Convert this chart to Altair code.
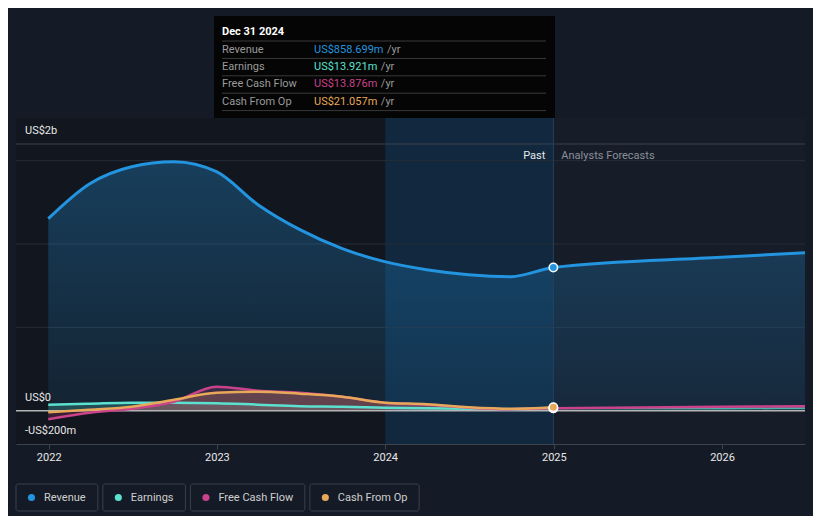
import altair as alt
import pandas as pd

# ---------------- data ----------------
dates = ["2021-12-31", "2022-03-31", "2022-06-30", "2022-09-30", "2022-12-31",
         "2023-03-31", "2023-06-30", "2023-09-30", "2023-12-31",
         "2024-03-31", "2024-06-30", "2024-09-30", "2024-12-31"]
revenue = [1152, 1362, 1464, 1494, 1434, 1236, 1086, 972, 894, 846, 816, 804, 858.699]
earnings = [36, 42, 48, 48, 45, 36, 27, 24, 18, 15, 12, 9, 13.921]
free_cash_flow = [-51, -12, 12, 54, 144, 120, 108, 84, 48, 36, 18, 9, 13.876]
cash_from_op = [-10, 6, 24, 66, 108, 114, 102, 84, 48, 39, 21, 12, 21.057]

fc_dates = ["2024-12-31", "2025-12-31", "2026-06-30"]
revenue_fc = [858.699, 920, 948]
earnings_fc = [13.921, 13, 15]
free_cash_flow_fc = [13.876, 24, 26]

series_names = ["Revenue", "Earnings", "Free Cash Flow", "Cash From Op"]
series_colors = ["#2394df", "#5ce1d0", "#c9428a", "#e8a85a"]
tooltip_date = "Dec 31 2024"
tooltip_values = ["US$858.699m", "US$13.921m", "US$13.876m", "US$21.057m"]

y_tick_values = [1600, 0, -200]
y_tick_labels = ["US$2b", "US$0", "-US$200m"]
grid_values = [1500, 1000, 500]
x_tick_years = [2022, 2023, 2024, 2025, 2026]

# ---------------- layout ----------------
W, H = 789, 300
FONT = "Roboto"
BG = "#151b26"

_w = {' ': 507, 'a': 1089, 'b': 1120, 'c': 1046, 'd': 1126, 'e': 1058, 'f': 697, 'g': 1120,
      'h': 1100, 'i': 486, 'j': 476, 'k': 1013, 'l': 486, 'm': 1751, 'n': 1102, 'o': 1141,
      'p': 1120, 'q': 1130, 'r': 677, 's': 1031, 't': 653, 'u': 1100, 'v': 968, 'w': 1502,
      'x': 990, 'y': 945, 'C': 1302, 'E': 1136, 'F': 1106, 'O': 1377, 'P': 1292, 'R': 1260,
      'S': 1216, 'U': 1296, '$': 1150, '.': 539, '/': 824}


def text_w(s, size=11):
    return sum(_w.get(c, 1150) for c in s) * size / 2048


xscale = alt.Scale(domain=[alt.DateTime(year=2021, month=10, date=22, utc=True),
                           alt.DateTime(year=2026, month=6, date=30, utc=True)])
yscale = alt.Scale(domain=[-200, 1600], nice=False, zero=False)

axis_x = alt.Axis(values=[alt.DateTime(year=yv, month=1, date=1, utc=True) for yv in x_tick_years],
                  labelExpr="utcFormat(datum.value, '%Y')", grid=False,
                  domainColor="#3d434d", tickColor="#3d434d", tickSize=5,
                  labelColor="#e8e8e8", labelFont=FONT, labelFontSize=11, labelPadding=2)


def X(field="date"):
    return alt.X(f"{field}:T", scale=xscale, axis=axis_x, title=None)


def Y(field):
    return alt.Y(f"{field}:Q", scale=yscale, axis=None, title=None)


past = pd.DataFrame({"date": dates, "Revenue": revenue, "Earnings": earnings,
                     "Free Cash Flow": free_cash_flow, "Cash From Op": cash_from_op})
fc = pd.DataFrame({"date": fc_dates, "Revenue": revenue_fc, "Earnings": earnings_fc,
                   "Free Cash Flow": free_cash_flow_fc})
color_of = dict(zip(series_names, series_colors))

# background regions
regions = pd.DataFrame({
    "date": ["2021-10-22", "2024-01-01", "2024-12-31"],
    "end": ["2024-01-01", "2024-12-31", "2026-06-30"],
    "fill": ["#12161e", "#11283e", "#161d29"],
})
bg_layer = alt.Chart(regions).mark_rect().encode(
    x=X(), x2="end:T", y=alt.value(-26), y2=alt.value(H),
    color=alt.Color("fill:N", scale=None))

grid_df = pd.DataFrame({"v": grid_values})
grid = alt.Chart(grid_df).mark_rule(color="#262d38", strokeWidth=1).encode(
    y=Y("v"), x=alt.value(0), x2=alt.value(W))
top_df = pd.DataFrame({"v": [y_tick_values[0]]})
top_line = alt.Chart(top_df).mark_rule(color="#3d434d", strokeWidth=1).encode(
    y=Y("v"), x=alt.value(0), x2=alt.value(W))
zero_df = pd.DataFrame({"v": [0]})
zero_line = alt.Chart(zero_df).mark_rule(color="#b4b4b4", strokeWidth=1.5).encode(
    y=Y("v"), x=alt.value(0), x2=alt.value(W))

ylab_df = pd.DataFrame({"v": y_tick_values, "t": y_tick_labels})
ylabels = alt.Chart(ylab_df).mark_text(align="left", baseline="middle", dy=-13,
                                       font=FONT, fontSize=11, color="#e8e8e8").encode(
    y=Y("v"), x=alt.value(9), text="t:N")

rev_all = pd.concat([past[["date", "Revenue"]], fc[["date", "Revenue"]].iloc[1:]])
rev_area = alt.Chart(rev_all).mark_area(
    interpolate="monotone",
    color=alt.Gradient(gradient="linear", x1=0, y1=0, x2=0, y2=1,
                       stops=[alt.GradientStop(color="rgba(35,148,223,0.32)", offset=0),
                              alt.GradientStop(color="rgba(35,148,223,0.10)", offset=1)])
).encode(x=X(), y=Y("Revenue"), y2=alt.datum(0))

small_areas = []
for name, op in [("Earnings", 0.22), ("Cash From Op", 0.24), ("Free Cash Flow", 0.22)]:
    small_areas.append(alt.Chart(past).mark_area(interpolate="monotone", color=color_of[name],
                                                  opacity=op).encode(
        x=X(), y=Y(name), y2=alt.datum(0)))

# cursor line
cursor_df = pd.DataFrame({"date": ["2024-12-31"]})
cursor = alt.Chart(cursor_df).mark_rule(color="#24425e", strokeWidth=1).encode(
    x=X(), y=alt.value(-26), y2=alt.value(H))

lines = []
lines.append(alt.Chart(fc).mark_line(interpolate="monotone", color=color_of["Earnings"],
                                     strokeWidth=2, opacity=0.75).encode(x=X(), y=Y("Earnings")))
lines.append(alt.Chart(fc).mark_line(interpolate="monotone", color=color_of["Free Cash Flow"],
                                     strokeWidth=2.5).encode(x=X(), y=Y("Free Cash Flow")))
lines.append(alt.Chart(past).mark_line(interpolate="monotone", color=color_of["Earnings"],
                                       strokeWidth=2.5).encode(x=X(), y=Y("Earnings")))
lines.append(alt.Chart(past).mark_line(interpolate="monotone", color=color_of["Free Cash Flow"],
                                       strokeWidth=2.5).encode(x=X(), y=Y("Free Cash Flow")))
lines.append(alt.Chart(past).mark_line(interpolate="monotone", color=color_of["Cash From Op"],
                                       strokeWidth=2.5).encode(x=X(), y=Y("Cash From Op")))
lines.append(alt.Chart(rev_all).mark_line(interpolate="monotone", color=color_of["Revenue"],
                                          strokeWidth=3).encode(x=X(), y=Y("Revenue")))

last = past.iloc[[-1]]
dots = []
for name in ["Revenue", "Earnings", "Free Cash Flow", "Cash From Op"]:
    dots.append(alt.Chart(last).mark_point(filled=True, size=70, fill=color_of[name],
                                           stroke="white", strokeWidth=1.5, opacity=1).encode(
        x=X(), y=Y(name)))

# Past / Analysts Forecasts labels
pf_past = alt.Chart(cursor_df).mark_text(align="right", baseline="middle", dx=-8, font=FONT,
                                         fontSize=11, color="#e8e8e8").encode(
    x=X(), y=alt.value(12), text=alt.value("Past"))
pf_fc = alt.Chart(cursor_df).mark_text(align="left", baseline="middle", dx=8, font=FONT,
                                       fontSize=11, color="#8a9099").encode(
    x=X(), y=alt.value(12), text=alt.value("Analysts Forecasts"))

# tooltip box
TX0, TX1, TY0, TY1 = 198, 539, -128, -26
tip_box = alt.Chart(pd.DataFrame({"a": [0]})).mark_rect(color="#050505").encode(
    x=alt.value(TX0), x2=alt.value(TX1), y=alt.value(TY0), y2=alt.value(TY1))
sep_df = pd.DataFrame({"py": [-103 + 17.4 * i for i in range(5)]})
tip_seps = alt.Chart(sep_df).mark_rule(color="#3a3a3a", strokeWidth=1).encode(
    y=alt.Y("py:Q", scale=None), x=alt.value(206), x2=alt.value(530))
tip_head = alt.Chart(pd.DataFrame({"t": [tooltip_date]})).mark_text(
    align="left", baseline="middle", font=FONT, fontSize=11, fontWeight="bold", color="#ffffff").encode(
    x=alt.value(206), y=alt.value(-112), text="t:N")
rows = pd.DataFrame({
    "name": series_names, "val": tooltip_values, "color": series_colors,
    "py": [-94.5 + 17.4 * i for i in range(4)],
})
rows["ux"] = [298 + text_w(v) + 4 for v in tooltip_values]
rows["unit"] = "/yr"
tip_names = alt.Chart(rows).mark_text(align="left", baseline="middle", font=FONT, fontSize=11,
                                      color="#9a9a9a").encode(
    x=alt.value(206), y=alt.Y("py:Q", scale=None), text="name:N")
tip_vals = alt.Chart(rows).mark_text(align="left", baseline="middle", font=FONT, fontSize=11).encode(
    x=alt.value(298), y=alt.Y("py:Q", scale=None), text="val:N", color=alt.Color("color:N", scale=None))
tip_units = alt.Chart(rows).mark_text(align="left", baseline="middle", font=FONT, fontSize=11,
                                      color="#9a9a9a").encode(
    x=alt.X("ux:Q", scale=None), y=alt.Y("py:Q", scale=None), text="unit:N")

# legend
lx = []
cur = 0.0
for n in series_names:
    lx.append(cur)
    cur += 28 + text_w(n) + 13 + 5
leg = pd.DataFrame({"name": series_names, "color": series_colors, "x0": lx})
leg["x1"] = [x0 + 28 + text_w(n) + 13 for x0, n in zip(lx, series_names)]
leg["dx"] = leg["x0"] + 15.5
leg["tx"] = leg["x0"] + 28
leg_box = alt.Chart(leg).mark_rect(fill=BG, stroke="#3b414c", strokeWidth=1, cornerRadius=2).encode(
    x=alt.X("x0:Q", scale=None), x2="x1:Q", y=alt.value(340), y2=alt.value(367))
leg_dot = alt.Chart(leg).mark_circle(size=50, opacity=1).encode(
    x=alt.X("dx:Q", scale=None), y=alt.value(353.5), color=alt.Color("color:N", scale=None))
leg_txt = alt.Chart(leg).mark_text(align="left", baseline="middle", font=FONT, fontSize=11,
                                   color="#cfcfcf").encode(
    x=alt.X("tx:Q", scale=None), y=alt.value(353.5), text="name:N")

chart = alt.layer(
    bg_layer, grid, top_line, rev_area, *small_areas, zero_line, cursor,
    *lines, *dots, pf_past, pf_fc, ylabels,
    tip_box, tip_seps, tip_head, tip_names, tip_vals, tip_units,
    leg_box, leg_dot, leg_txt,
).properties(
    width=W, height=H,
    autosize=alt.AutoSizeParams(type="none"),
    padding={"left": 8, "top": 136, "right": 8, "bottom": 72},
    background=BG,
).configure_view(stroke=None)

chart.save("out.html", embed_options={"renderer": "svg", "actions": False})
